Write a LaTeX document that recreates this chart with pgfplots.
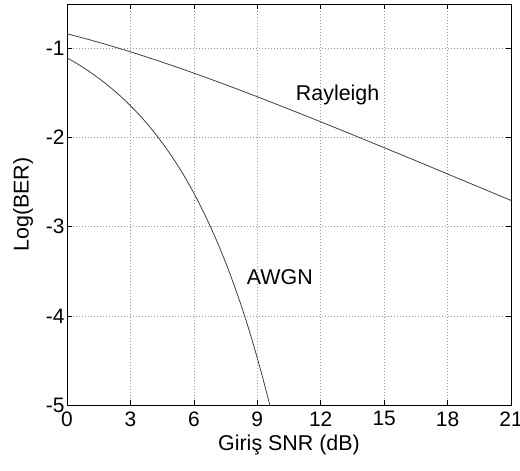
\documentclass[border=0pt]{standalone}
\usepackage{pgfplots}
\pgfplotsset{compat=1.18}
\usepackage{fontspec}
\setmainfont{Liberation Sans}
\begin{document}
\begin{tikzpicture}
\useasboundingbox (-67bp,-66bp) rectangle (453bp,405bp);
\begin{axis}[
  at={(0,0)}, anchor=south west,
  scale only axis, width=444bp, height=401bp,
  xmin=0, xmax=21, ymin=-5, ymax=-0.5,
  xtick={0,3,...,21}, ytick={-5,-4,-3,-2,-1},
  yticklabels={-5,-4,-3,-2,-1},
  xticklabels={0,3,6,9,12,15,18,21},
  tick align=inside, major tick length=5bp,
  tick style={black, line width=0.6bp},
  ticklabel style={font=\fontsize{21}{25}\selectfont},
  xticklabel style={yshift=-3bp},
  yticklabel style={xshift=1bp},
  label style={font=\fontsize{21.5}{26}\selectfont},
  xlabel={Giriş SNR (dB)}, ylabel={Log(BER)},
  xlabel style={yshift=-2bp},
  ylabel style={yshift=6bp},
  grid=major,
  grid style={dash pattern=on 0.9bp off 2.1bp, gray!80, line width=0.7bp},
  axis line style={line width=0.7bp},
  clip=true,
]
\addplot[black!75, line width=0.8bp, smooth] coordinates {
(0,-0.8343) (1,-0.8971) (2,-0.9647) (3,-1.0366) (4,-1.1127) (5,-1.1926)
(6,-1.2757) (7,-1.3617) (8,-1.4503) (9,-1.5409) (10,-1.6332) (11,-1.7271)
(12,-1.8220) (13,-1.9180) (14,-2.0149) (15,-2.1122) (16,-2.2100) (17,-2.3085)
(18,-2.4074) (19,-2.5061) (20,-2.6053) (21,-2.7044)
};
\addplot[black!75, line width=0.8bp, smooth] coordinates {
(0,-1.1043) (0.5,-1.173) (1,-1.2496) (1.5,-1.3335) (2,-1.4259) (2.5,-1.528)
(3,-1.6405) (3.5,-1.765) (4,-1.9031) (4.5,-2.0555) (5,-2.2252) (5.5,-2.4128)
(6,-2.6220) (6.5,-2.855) (7,-3.1120) (7.5,-3.399) (7.75,-3.556) (8,-3.7192)
(8.25,-3.891) (8.5,-4.074) (8.75,-4.268) (9,-4.4736) (9.25,-4.688) (9.5,-4.915) (9.6,-5.010)
};
\node[font=\fontsize{21.5}{26}\selectfont] at (axis cs:12.8,-1.517) {Rayleigh};
\node[font=\fontsize{21.5}{26}\selectfont] at (axis cs:10.07,-3.57) {AWGN};
\end{axis}
\end{tikzpicture}
\end{document}
